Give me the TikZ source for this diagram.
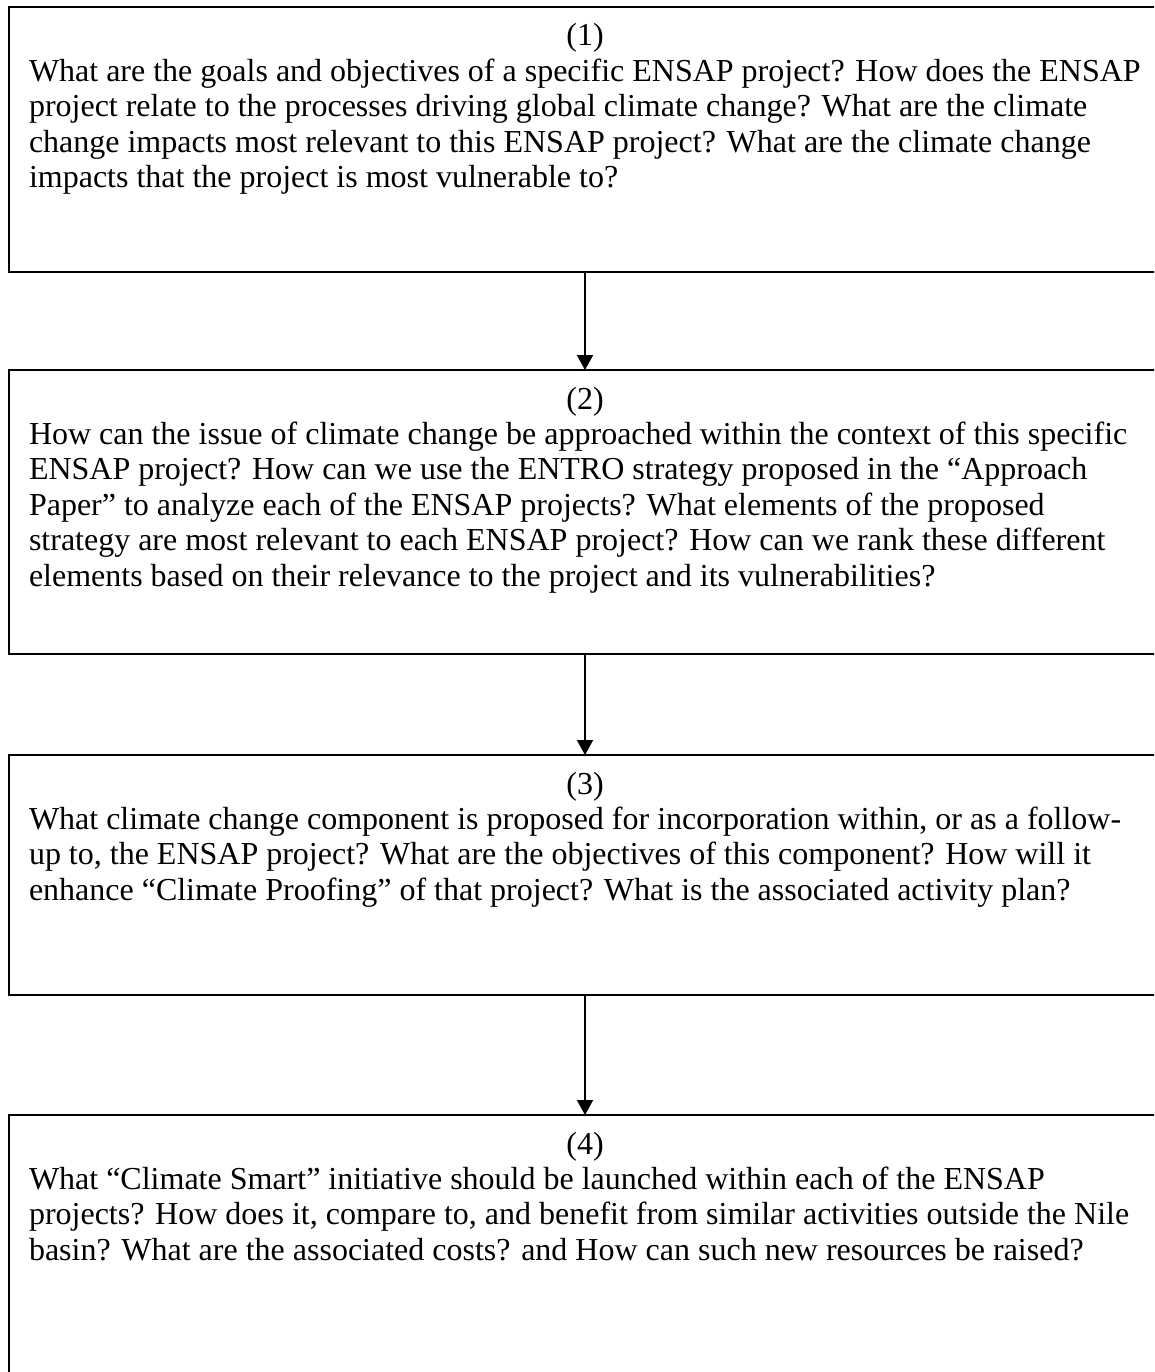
\documentclass[tikz,border=0pt]{standalone}
\usepackage{fontspec}
\setmainfont{Liberation Serif}
\usetikzlibrary{arrows.meta}
\tikzset{
  qbox/.style={draw=black, line width=2pt, rectangle, inner sep=0pt, outer sep=0pt, minimum width=1152pt},
  qtext/.style={anchor=base west, inner sep=0pt, outer sep=0pt, font=\fontsize{32}{35.4}\selectfont},
  flow/.style={line width=2pt, -{Triangle[length=15pt,width=16pt]}}
}
\newcommand{\qpar}[2]{\parbox[t]{1130pt}{\raggedright\makebox[1112pt]{#1}\\#2}}
\begin{document}
\begin{tikzpicture}[x=1pt,y=-1pt]
\clip (0,0) rectangle (1154,1372);
\fill[white] (0,0) rectangle (1154,1372);
\node[qbox, minimum height=265pt] (box1) at (585,139.5) {};
\node[qbox, minimum height=284pt] (box2) at (585,512) {};
\node[qbox, minimum height=240pt] (box3) at (585,875) {};
\node[qbox, minimum height=305pt] (box4) at (585,1267.5) {};
\node[qtext] (t1) at (29,46) {\qpar{(1)}{What are the goals and objectives of a specific ENSAP project? How does the ENSAP\\
project relate to the processes driving global climate change? What are the climate\\
change impacts most relevant to this ENSAP project? What are the climate change\\
impacts that the project is most vulnerable to?}};
\node[qtext] (t2) at (29,409) {\qpar{(2)}{How can the issue of climate change be approached within the context of this specific\\
ENSAP project? How can we use the ENTRO strategy proposed in the “Approach\\
Paper” to analyze each of the ENSAP projects? What elements of the proposed\\
strategy are most relevant to each ENSAP project? How can we rank these different\\
elements based on their relevance to the project and its vulnerabilities?}};
\node[qtext] (t3) at (29,794) {\qpar{(3)}{What climate change component is proposed for incorporation within, or as a follow-\\
up to, the ENSAP project? What are the objectives of this component? How will it\\
enhance “Climate Proofing” of that project? What is the associated activity plan?}};
\node[qtext] (t4) at (29,1154) {\qpar{(4)}{What “Climate Smart” initiative should be launched within each of the ENSAP\\
projects? How does it, compare to, and benefit from similar activities outside the Nile\\
basin? What are the associated costs? and How can such new resources be raised?}};
\draw[flow] (box1.south) -- (box2.north);
\draw[flow] (box2.south) -- (box3.north);
\draw[flow] (box3.south) -- (box4.north);
\end{tikzpicture}
\end{document}
